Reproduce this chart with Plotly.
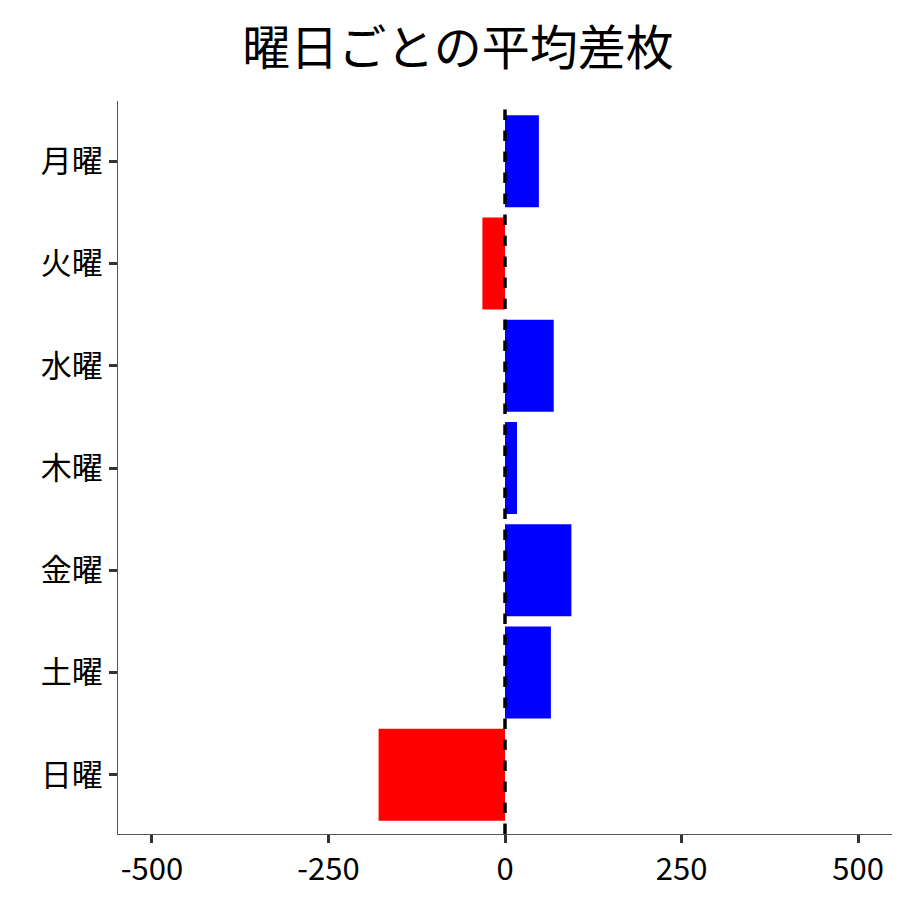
import plotly.graph_objects as go

days = ["日曜", "土曜", "金曜", "木曜", "水曜", "火曜", "月曜"]
values = [-179, 65, 94, 17, 69, -32, 48]
colors = ["red" if v < 0 else "blue" for v in values]
x_ticks = [-500, -250, 0, 250, 500]

fig = go.Figure(go.Bar(x=values, y=days, orientation="h", marker_color=colors,
                       marker_line_width=0, width=0.9))
fig.add_shape(type="line", x0=0, x1=0, xref="x", y0=0, y1=1, yref="paper",
              line=dict(color="black", width=3.5, dash="dash"))
font = "Noto Sans CJK JP"
fig.update_layout(
    width=900, height=900, plot_bgcolor="white", paper_bgcolor="white",
    margin=dict(l=110, r=16, t=93, b=74),
    font=dict(family=font, color="black"),
    title=dict(text="曜日ごとの平均差枚", x=0.5, xanchor="center", y=0.955, yanchor="middle",
               font=dict(size=48, family=font)),
    showlegend=False, bargap=0.1,
)
fig.update_xaxes(range=[-548, 548], tickvals=x_ticks, ticktext=[str(v) for v in x_ticks],
                 showgrid=False, zeroline=False, showline=True, linecolor="#555", linewidth=1,
                 ticks="outside", ticklen=8, tickwidth=3, tickcolor="#333",
                 tickfont=dict(size=31, family=font))
fig.update_yaxes(range=[-0.58, 6.59], showgrid=False, zeroline=False, showline=True,
                 linecolor="#555", linewidth=1, ticks="outside", ticklen=8, tickwidth=3,
                 tickcolor="#333", tickfont=dict(size=31, family=font))
fig.write_html("out.html")
